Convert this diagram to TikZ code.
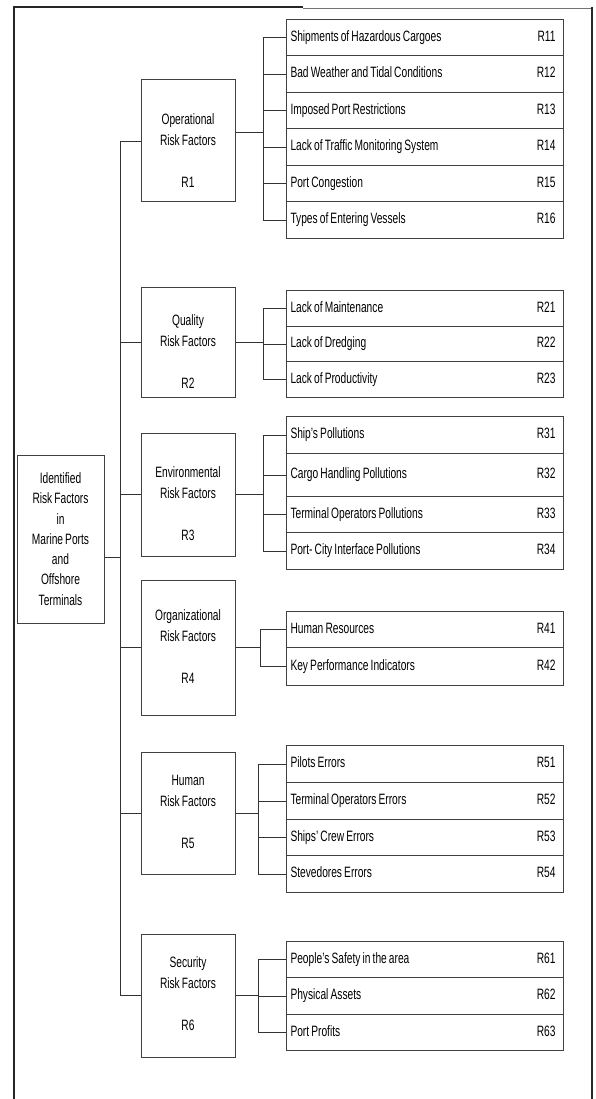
\documentclass[tikz,border=0pt]{standalone}
\usepackage{fontspec}
\setmainfont{Liberation Sans}[FakeStretch=0.68, WordSpace=0.75]
\usetikzlibrary{calc}

% one factor line: name at the left, code at the right
\newcommand\riskrow[2]{\makebox[269pt][l]{#1\hfill #2\hspace*{4pt}}}

\begin{document}
\begin{tikzpicture}[x=1pt,y=-1pt,
  link/.style={line width=0.9pt, draw=black!80},
  frame/.style={line width=2pt, draw=black!85},
  box/.style={draw=black!75, line width=1pt, inner sep=0pt},
  row/.style={draw=black!75, line width=1pt, anchor=north west,
    inner xsep=4pt, inner ysep=0pt,
    text height=10.5pt, text depth=3pt, font=\fontsize{15}{20}\selectfont},
  lbl/.style={align=center, inner sep=0pt, font=\fontsize{15}{21}\selectfont}
]
\useasboundingbox (0,0) rectangle (595,1099);

% page frame
\draw[frame] (14,1099) -- (14,7) -- (303,7);
\draw[line width=1.4pt, draw=black!55] (303,8.5) -- (591.5,8.5);
\draw[frame] (591.5,7) -- (591.5,1099);

% root box
\node[box, minimum width=87pt, minimum height=168pt, align=center,
      font=\fontsize{15}{20.3}\selectfont] (root) at (60.5,539)
  {Identified\\Risk Factors\\in\\Marine Ports\\and\\Offshore\\Terminals};

% category boxes
\node[box, minimum width=94pt, minimum height=122pt] (c1) at (188,141) {};
\node[box, minimum width=94pt, minimum height=110pt] (c2) at (188,342) {};
\node[box, minimum width=94pt, minimum height=123pt] (c3) at (188,494.5) {};
\node[box, minimum width=94pt, minimum height=135pt] (c4) at (188,647.5) {};
\node[box, minimum width=94pt, minimum height=122pt] (c5) at (188,813) {};
\node[box, minimum width=94pt, minimum height=123pt] (c6) at (188,995.5) {};

\node[lbl] (t1) at (188,151)   {Operational\\Risk Factors\\[21pt]R1};
\node[lbl] (t2) at (188,352)   {Quality\\Risk Factors\\[21pt]R2};
\node[lbl] (t3) at (188,504)   {Environmental\\Risk Factors\\[21pt]R3};
\node[lbl] (t4) at (188,646.5) {Organizational\\Risk Factors\\[21pt]R4};
\node[lbl] (t5) at (188,811.5) {Human\\Risk Factors\\[21pt]R5};
\node[lbl] (t6) at (188,994)   {Security\\Risk Factors\\[21pt]R6};

% operational factors
\node[row, minimum height=36.5pt] (r11) at (286,19)    {\riskrow{Shipments of Hazardous Cargoes}{R11}};
\node[row, minimum height=36.5pt] (r12) at (286,55.5)  {\riskrow{Bad Weather and Tidal Conditions}{R12}};
\node[row, minimum height=36.5pt] (r13) at (286,92)    {\riskrow{Imposed Port Restrictions}{R13}};
\node[row, minimum height=36.5pt] (r14) at (286,128.5) {\riskrow{Lack of Traffic Monitoring System}{R14}};
\node[row, minimum height=36.5pt] (r15) at (286,165)   {\riskrow{Port Congestion}{R15}};
\node[row, minimum height=36.5pt] (r16) at (286,201.5) {\riskrow{Types of Entering Vessels}{R16}};

% quality factors
\node[row, minimum height=35.7pt] (r21) at (286,290)   {\riskrow{Lack of Maintenance}{R21}};
\node[row, minimum height=35.7pt] (r22) at (286,325.7) {\riskrow{Lack of Dredging}{R22}};
\node[row, minimum height=35.7pt] (r23) at (286,361.3) {\riskrow{Lack of Productivity}{R23}};

% environmental factors
\node[row, minimum height=37pt] (r31) at (286,416) {\riskrow{Ship's Pollutions}{R31}};
\node[row, minimum height=43pt] (r32) at (286,453) {\riskrow{Cargo Handling Pollutions}{R32}};
\node[row, minimum height=36pt] (r33) at (286,496) {\riskrow{Terminal Operators Pollutions}{R33}};
\node[row, minimum height=37pt] (r34) at (286,532) {\riskrow{Port- City Interface Pollutions}{R34}};

% organizational factors
\node[row, minimum height=36pt] (r41) at (286,611) {\riskrow{Human Resources}{R41}};
\node[row, minimum height=38pt] (r42) at (286,647) {\riskrow{Key Performance Indicators}{R42}};

% human factors
\node[row, minimum height=37pt] (r51) at (286,745) {\riskrow{Pilots Errors}{R51}};
\node[row, minimum height=37pt] (r52) at (286,782) {\riskrow{Terminal Operators Errors}{R52}};
\node[row, minimum height=36pt] (r53) at (286,819) {\riskrow{Ships' Crew Errors}{R53}};
\node[row, minimum height=37pt] (r54) at (286,855) {\riskrow{Stevedores Errors}{R54}};

% security factors
\node[row, minimum height=36pt] (r61) at (286,941)  {\riskrow{People's Safety in the area}{R61}};
\node[row, minimum height=37pt] (r62) at (286,977)  {\riskrow{Physical Assets}{R62}};
\node[row, minimum height=36pt] (r63) at (286,1014) {\riskrow{Port Profits}{R63}};

% trunk from the root to the categories
\coordinate (tk) at (120,557);
\draw[link] (root.east |- tk) -- (tk);
\draw[link] (c1.west) -- (c1.west -| tk) -- (c6.west -| tk) -- (c6.west);
\foreach \i in {2,...,5} \draw[link] (c\i.west -| tk) -- (c\i.west);

% branch points of the brackets
\coordinate (b1) at (263,132);
\coordinate (b2) at (263,342);
\coordinate (b3) at (263,494.5);
\coordinate (b4) at (260,647.5);
\coordinate (b5) at (258,813);
\coordinate (b6) at (258,995.5);

\draw[link] (b1 -| c1.east) -- (b1);
\foreach \i in {2,...,6} \draw[link] (c\i.east) -- (c\i.east -| b\i);

% brackets to the factor rows
\foreach \g/\first/\last/\n in {1/1/6/6, 2/1/3/3, 3/1/4/4, 4/1/2/2, 5/1/4/4, 6/1/3/3} {
  \draw[link] (r\g\first.west -| b\g) -- (r\g\last.west -| b\g);
  \foreach \k in {1,...,\n} \draw[link] (r\g\k.west -| b\g) -- (r\g\k.west);
}
\end{tikzpicture}
\end{document}
